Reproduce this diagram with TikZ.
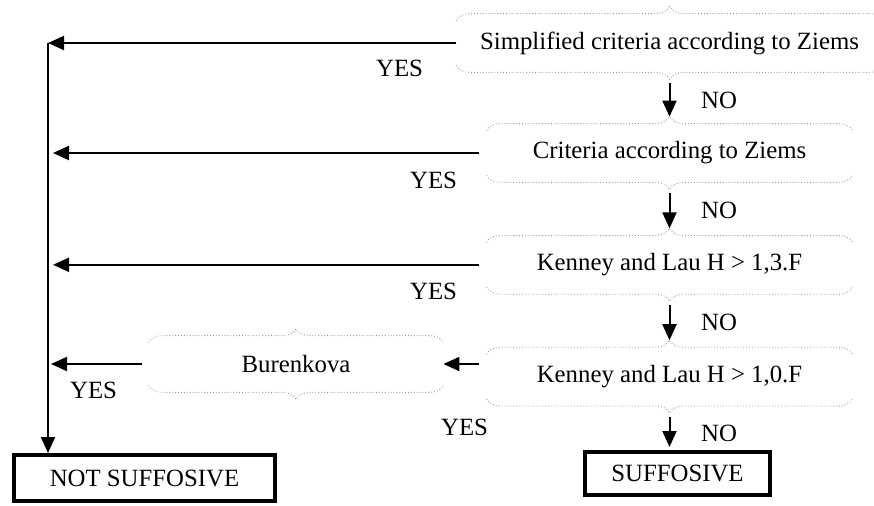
\documentclass[tikz,border=0pt]{standalone}
\usepackage{fontspec}
\setmainfont{Liberation Serif}
\usetikzlibrary{positioning, arrows.meta, decorations.pathreplacing}

\begin{document}
\begin{tikzpicture}[
    x=0.5pt, y=-0.5pt,
    font=\fontsize{12.4}{14}\selectfont,
    node distance=26.5pt,
    crit/.style={rectangle, minimum width=182.5pt, minimum height=29pt, inner sep=0pt, align=center},
    result/.style={rectangle, draw, line width=2pt, minimum height=23pt, inner sep=0pt},
    curlyup/.style={decorate, draw=gray!80, densely dotted, line width=0.45pt, decoration={brace, amplitude=7pt}},
    curlydown/.style={decorate, draw=gray!80, densely dotted, line width=0.45pt, decoration={brace, mirror, amplitude=7pt}},
    arrow/.style={-{Triangle[length=8pt, width=7pt]}, line width=1pt},
    answer/.style={inner sep=0pt}
]
\clip (0,0) rectangle (874,505);

% Criteria
\node[crit, minimum width=213pt] (ziems1) at (669.5,43) {Simplified criteria according to Ziems};
\node[crit] (ziems2) at (669.5,153) {Criteria according to Ziems};
\node[crit, below=of ziems2] (kenney1) {Kenney and Lau H > 1,3.F};
\node[crit, below=of kenney1] (kenney2) {Kenney and Lau H > 1,0.F};
\node[crit, minimum width=147pt, minimum height=28pt] (buren) at (296,364) {Burenkova};

% Results
\node[result, minimum width=130.5pt] (notsuff) at (144.5,478) {NOT SUFFOSIVE};
\node[result, minimum width=92.5pt, minimum height=21.5pt] (suff) at (677.5,473.5) {SUFFOSIVE};

% Braces round the criteria
\foreach \n in {ziems1, ziems2, kenney1, kenney2, buren} {
  \draw[curlyup] ([yshift=-3.5pt]\n.north west) -- ([yshift=-3.5pt]\n.north east);
  \draw[curlydown] ([yshift=3.5pt]\n.south west) -- ([yshift=3.5pt]\n.south east);
}

% YES branch
\coordinate (spine) at (48,0);
\draw[arrow] (ziems1.west) -- (ziems1.west -| spine);
\draw[arrow] (ziems1.west -| spine) -- (spine |- notsuff.north);
\draw[arrow, shorten <=4pt, shorten >=2.5pt] (ziems2.west) -- (ziems2.west -| spine);
\draw[arrow, shorten <=4pt, shorten >=2.5pt] (kenney1.west) -- (kenney1.west -| spine);
\draw[arrow, shorten <=4pt] (buren.east -| kenney2.west) -- (buren.east);
\draw[arrow, shorten <=3.5pt, shorten >=1.5pt] (buren.west) -- (buren.west -| spine);

\node[answer] (yes1) at ([shift={(-28.25pt,-12.75pt)}]ziems1.west) {YES};
\node[answer] (yes2) at ([shift={(-26.5pt,-13.5pt)}]ziems2.west) {YES};
\node[answer] (yes3) at ([shift={(-26.5pt,-13.5pt)}]kenney1.west) {YES};
\node[answer] (yes4) at ([shift={(-11pt,-10.5pt)}]kenney2.south west) {YES};
\node[answer] (yes5) at ([shift={(-27.5pt,-13pt)}]buren.west) {YES};

% NO branch
\draw[arrow] ([yshift=-5.5pt]ziems1.south) -- ([yshift=3.5pt]ziems2.north) node[midway, right=12pt] {NO};
\draw[arrow] ([yshift=-5.5pt]ziems2.south) -- ([yshift=3.5pt]kenney1.north) node[midway, right=12pt] {NO};
\draw[arrow] ([yshift=-5.5pt]kenney1.south) -- ([yshift=3.5pt]kenney2.north) node[midway, right=12pt] {NO};
\draw[arrow, shorten >=1.5pt] ([yshift=-5.5pt]kenney2.south) -- (kenney2.south |- suff.north) node[midway, right=12pt] {NO};

\end{tikzpicture}
\end{document}
